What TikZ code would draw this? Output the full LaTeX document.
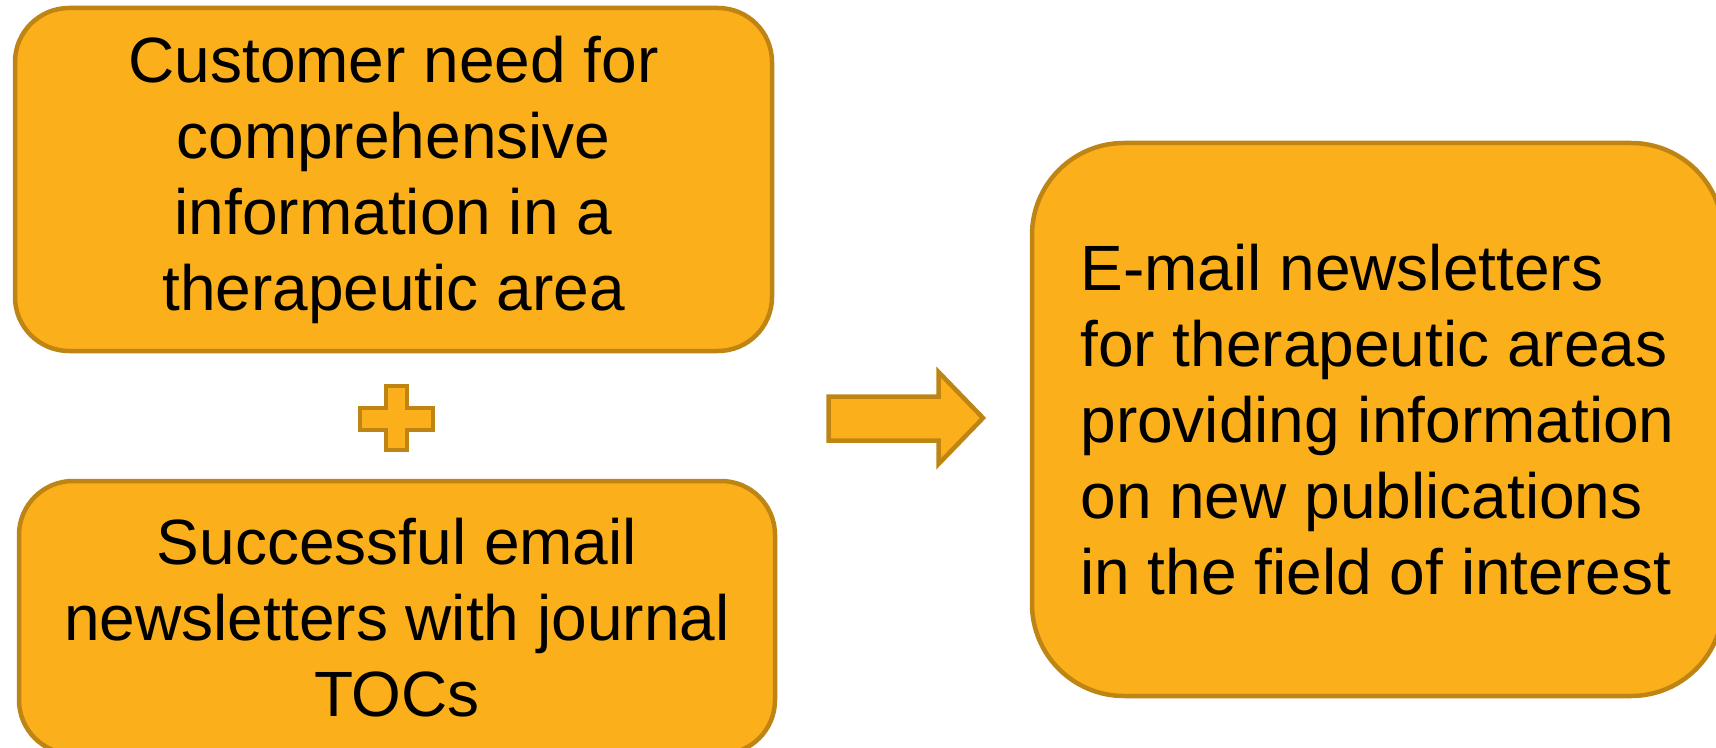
\documentclass[tikz,border=0pt]{standalone}
\usepackage{fontspec}
\setmainfont{Liberation Sans}
\usetikzlibrary{calc}
\definecolor{boxfill}{RGB}{251,175,27}
\definecolor{boxline}{RGB}{190,133,20}
\tikzset{>=latex}
\tikzset{
block/.style={draw=boxline, fill=boxfill, line width=2.25pt, line join=miter},
card/.style={block, rectangle, rounded corners=27pt, inner sep=0pt, align=center,
  font=\fontsize{32}{38}\selectfont},
}

\begin{document}
\begin{tikzpicture}[x=0.5pt, y=-0.5pt]
\useasboundingbox (0,0) rectangle (1716,748);

% the two inputs
\node[card, minimum width=378.5pt, minimum height=171.5pt] (need) at (393.5,179.5)
{Customer need for\\comprehensive\\information in a\\therapeutic area};
\node[card, minimum width=378pt, minimum height=136.5pt] (tocs) at (397,617.5)
{Successful email\\newsletters with journal\\TOCs};

% plus sign
\draw[block] (386,386) -- (407,386) -- (407,408) -- (433,408) -- (433,430) -- (407,430)
-- (407,450) -- (386,450) -- (386,430) -- (360,430) -- (360,408) -- (386,408) -- cycle;

% block arrow
\draw[block] (828.5,396.5) -- (938.5,396.5) -- (938.5,372) -- (983,418) -- (938.5,464)
-- (938.5,440.5) -- (828.5,440.5) -- cycle;

% the result
\node[card, rounded corners=46pt, align=left, minimum width=345.5pt, minimum height=276.5pt]
(result) at (1377.5,419.5)
{E-mail newsletters\\for therapeutic areas\\providing information\\on new publications\\in the field of interest};
\end{tikzpicture}
\end{document}
